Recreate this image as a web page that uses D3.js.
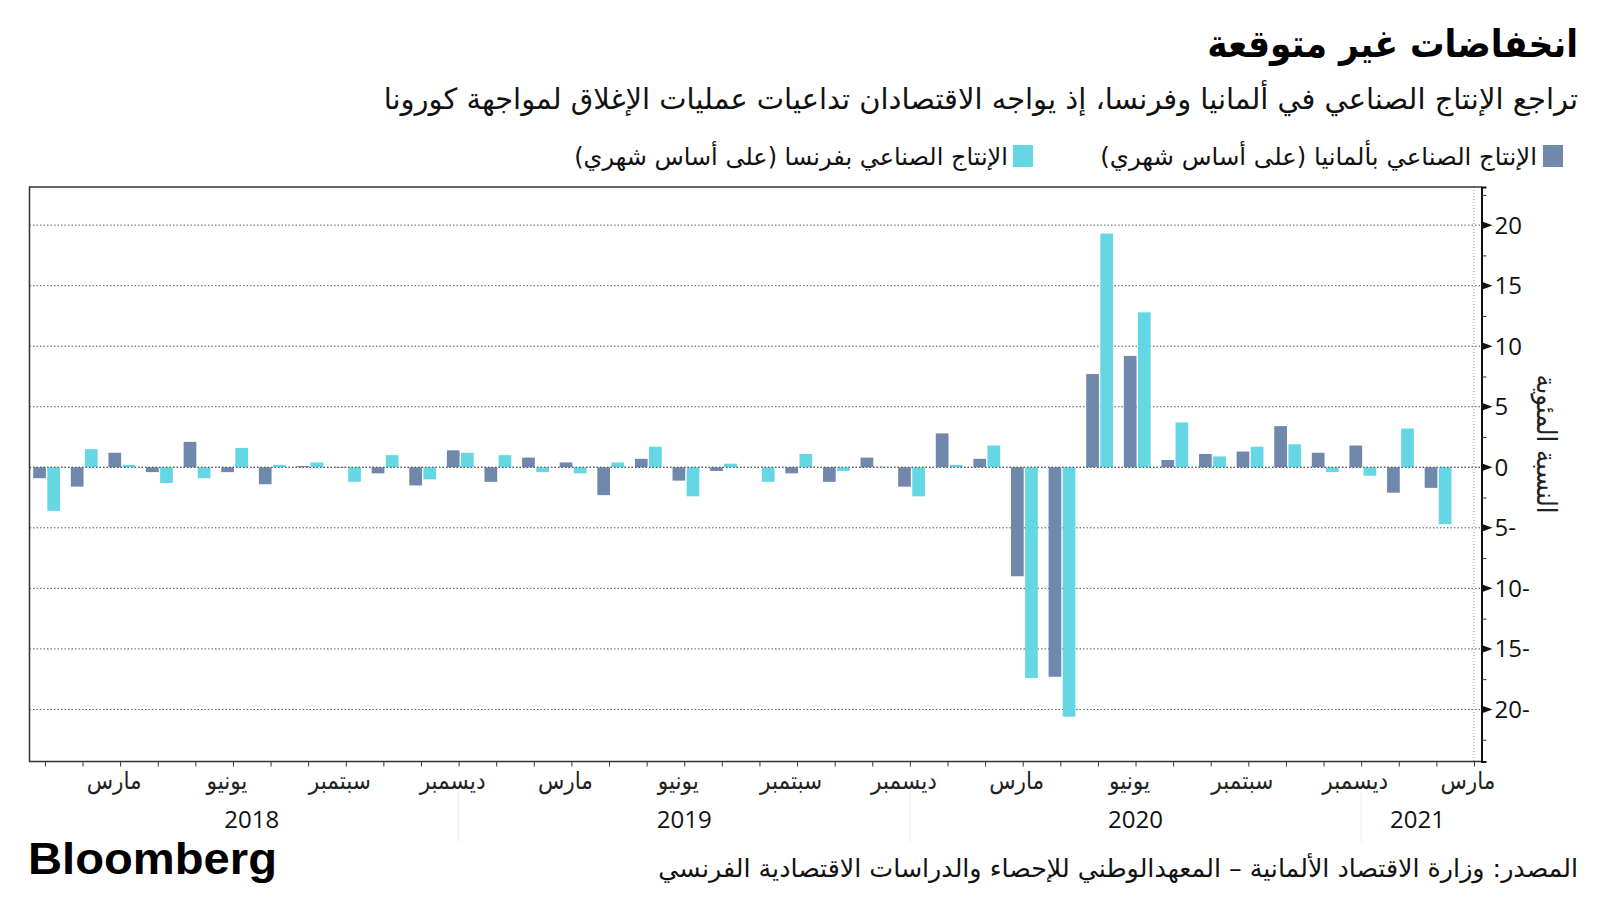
<!DOCTYPE html>
<html><head><meta charset="utf-8">
<script src="https://cdn.jsdelivr.net/npm/d3@7"></script>
<style>
html,body{margin:0;padding:0;background:#fff;}
svg{display:block;}
.ar{font-family:"DejaVu Sans Condensed","DejaVu Sans",sans-serif;}
.num{font-family:"Open Sans","Noto Sans",sans-serif;}
</style></head>
<body>
<svg id="c" width="1600" height="900"></svg>
<script>
// ---- data ----
const months = ["2018-01","2018-02","2018-03","2018-04","2018-05","2018-06","2018-07","2018-08","2018-09","2018-10","2018-11","2018-12",
"2019-01","2019-02","2019-03","2019-04","2019-05","2019-06","2019-07","2019-08","2019-09","2019-10","2019-11","2019-12",
"2020-01","2020-02","2020-03","2020-04","2020-05","2020-06","2020-07","2020-08","2020-09","2020-10","2020-11","2020-12",
"2021-01","2021-02","2021-03"];
const germany = [-0.9,-1.6,1.2,-0.4,2.1,-0.4,-1.4,0.1,-0.05,-0.5,-1.5,1.4,
-1.2,0.8,0.4,-2.3,0.7,-1.1,-0.3,0.0,-0.5,-1.2,0.8,-1.6,
2.8,0.7,-9.0,-17.3,7.7,9.2,0.6,1.1,1.3,3.4,1.2,1.8,
-2.1,-1.7];
const france = [-3.6,1.5,0.2,-1.3,-0.9,1.6,0.2,0.4,-1.2,1.0,-1.0,1.2,
1.0,-0.4,-0.5,0.4,1.7,-2.4,0.3,-1.2,1.1,-0.3,0.05,-2.4,
0.2,1.8,-17.4,-20.6,19.3,12.8,3.7,0.9,1.7,1.9,-0.4,-0.7,
3.2,-4.7];
const monthTickLabels = {"03":"مارس","06":"يونيو","09":"سبتمبر","12":"ديسمبر"};
const years = ["2018","2019","2020","2021"];
const yTicks = [20,15,10,5,0,-5,-10,-15,-20];
const seriesNames = ["الإنتاج الصناعي بألمانيا (على أساس شهري)","الإنتاج الصناعي بفرنسا (على أساس شهري)"];
const title = "انخفاضات غير متوقعة";
const subtitle = "تراجع الإنتاج الصناعي في ألمانيا وفرنسا، إذ يواجه الاقتصادان تداعيات عمليات الإغلاق لمواجهة كورونا";
const yTitle = "النسبة المئوية";
const source = "المصدر: وزارة الاقتصاد الألمانية –  المعهدالوطني للإحصاء والدراسات الاقتصادية الفرنسي";

const colDE = "#6f88ab", colFR = "#64d6e4";

const svg = d3.select("#c");
const L = 29.5, R = 1481.5, T = 187, B = 761.5;
const x = d3.scaleLinear().domain([-0.41, 38.2]).range([L, R]);
const y = d3.scaleLinear().domain([-24.3, 23.15]).range([B, T]);

function fitX(sel, left, right){
  const n = sel.node(); const bb = n.getBBox();
  const sx = (right-left)/bb.width;
  sel.attr("transform", `translate(${left},0) scale(${sx},1) translate(${-bb.x},0)`);
}

// gridlines
svg.append("g").selectAll("line").data(yTicks).join("line")
  .attr("x1", L).attr("x2", R).attr("y1", d=>y(d)).attr("y2", d=>y(d))
  .attr("stroke", "#555").attr("stroke-width", 1).attr("stroke-dasharray", "1.5,2");

// vertical dotted marker at last month
svg.append("line").attr("x1", x(38)).attr("x2", x(38)).attr("y1", T).attr("y2", B)
  .attr("stroke", "#999").attr("stroke-width", 1).attr("stroke-dasharray", "1,2");

// bars
const bw = 12.7, off = 1.7, gap = 0.7;
const gb = svg.append("g");
gb.selectAll("rect.de").data(germany).join("rect").attr("class","de")
  .attr("x", (d,i)=>x(i)+off-gap-bw).attr("width", bw)
  .attr("y", d=>y(Math.max(0,d))).attr("height", d=>Math.abs(y(d)-y(0)))
  .attr("fill", colDE);
gb.selectAll("rect.fr").data(france).join("rect").attr("class","fr")
  .attr("x", (d,i)=>x(i)+off+gap).attr("width", bw)
  .attr("y", d=>y(Math.max(0,d))).attr("height", d=>Math.abs(y(d)-y(0)))
  .attr("fill", colFR);

// zero dotted line on top
svg.append("line").attr("x1", L).attr("x2", R).attr("y1", y(0)).attr("y2", y(0))
  .attr("stroke", "#555").attr("stroke-width", 1).attr("stroke-dasharray", "1.5,2");

// frame
svg.append("path").attr("d", `M${R},${T}H${L}V${B}H${R}`).attr("fill","none").attr("stroke","#333").attr("stroke-width",1.5);

// right axis
const yAxis = d3.axisRight(y).tickValues(d3.range(-22.5, 23, 2.5)).tickSize(5).tickFormat("");
const ga = svg.append("g").attr("transform", `translate(${R},0)`).call(yAxis);
ga.select(".domain").attr("stroke","#111").attr("stroke-width",2);
ga.selectAll(".tick line").attr("stroke","#333");
// major tick triangles and labels
const gm = ga.append("g");
gm.selectAll("path").data(yTicks).join("path")
  .attr("d", d=>`M0,${y(d)-4}L11,${y(d)}L0,${y(d)+4}Z`).attr("fill","#111");
gm.selectAll("text").data(yTicks).join("text").attr("class","num")
  .attr("x", 13).attr("y", d=>y(d)).attr("dy","0.35em")
  .attr("font-size", 24).attr("fill","#111")
  .text(d=> d<0 ? Math.abs(d)+"-" : String(d));

// y title
svg.append("text").attr("class","ar").attr("direction","rtl")
  .attr("transform", `translate(1537,444) rotate(90)`)
  .attr("text-anchor","middle").attr("font-size", 27).attr("fill","#222")
  .text(yTitle);

// x axis ticks
const xAxis = d3.axisBottom(x).tickValues(d3.range(0, 39)).tickSize(5).tickFormat("");
const gx = svg.append("g").attr("transform", `translate(0,${B})`).call(xAxis);
gx.select(".domain").remove();
gx.selectAll(".tick line").attr("stroke","#333");

// month labels
const labIdx = months.map((m,i)=>({m:m.slice(5), i})).filter(d=>monthTickLabels[d.m]);
svg.append("g").selectAll("text").data(labIdx).join("text").attr("class","ar")
  .attr("direction","rtl").attr("text-anchor","middle")
  .attr("x", d=>x(d.i)-6).attr("y", 789).attr("font-size", 24).attr("fill","#222")
  .text(d=>monthTickLabels[d.m]);

// year separators and labels
const decIdx = months.map((m,i)=>({m,i})).filter(d=>d.m.endsWith("-12")).map(d=>d.i);
svg.append("g").selectAll("line").data(decIdx).join("line")
  .attr("x1", d=>x(d)).attr("x2", d=>x(d)).attr("y1", 792).attr("y2", 842)
  .attr("stroke","#eee").attr("stroke-width",1);
const bounds = [0, ...decIdx, months.length-1];
svg.append("g").selectAll("text").data(years).join("text").attr("class","num")
  .attr("text-anchor","middle")
  .attr("x", (d,i)=>x((bounds[i]+bounds[i+1])/2)).attr("y", 828)
  .attr("font-size", 24).attr("fill","#111").text(d=>d);

// title & subtitle
const tt = svg.append("text").attr("class","ar").attr("direction","rtl").attr("x",1578).attr("y",57)
  .attr("font-size",38).attr("font-weight","bold").attr("fill","#000").text(title);
fitX(tt, 1207, 1578);
const st = svg.append("text").attr("class","ar").attr("direction","rtl").attr("x",1578).attr("y",109)
  .attr("font-size",29).attr("fill","#111").text(subtitle);
fitX(st, 383, 1578);

// legend
const legend = [
  {name: seriesNames[0], color: colDE, sq: 1543, tl: 1100, tr: 1537},
  {name: seriesNames[1], color: colFR, sq: 1013, tl: 574, tr: 1008}
];
legend.forEach(l=>{
  svg.append("rect").attr("x", l.sq).attr("y",145).attr("width",20).attr("height",22).attr("fill", l.color);
  const t = svg.append("text").attr("class","ar").attr("direction","rtl").attr("x", l.tr).attr("y",165)
    .attr("font-size",24).attr("fill","#111").text(l.name);
  fitX(t, l.tl, l.tr);
});

// footer
const bl = svg.append("text").attr("x",28).attr("y",874).attr("font-family","'Liberation Sans',Arial,sans-serif")
  .attr("font-weight","bold").attr("font-size",44).attr("fill","#000").text("Bloomberg");
fitX(bl, 28, 277);
const so = svg.append("text").attr("class","ar").attr("direction","rtl").attr("x",1578).attr("y",877)
  .attr("font-size",25).attr("fill","#111").text(source);
fitX(so, 658, 1578);
</script>
</body></html>
